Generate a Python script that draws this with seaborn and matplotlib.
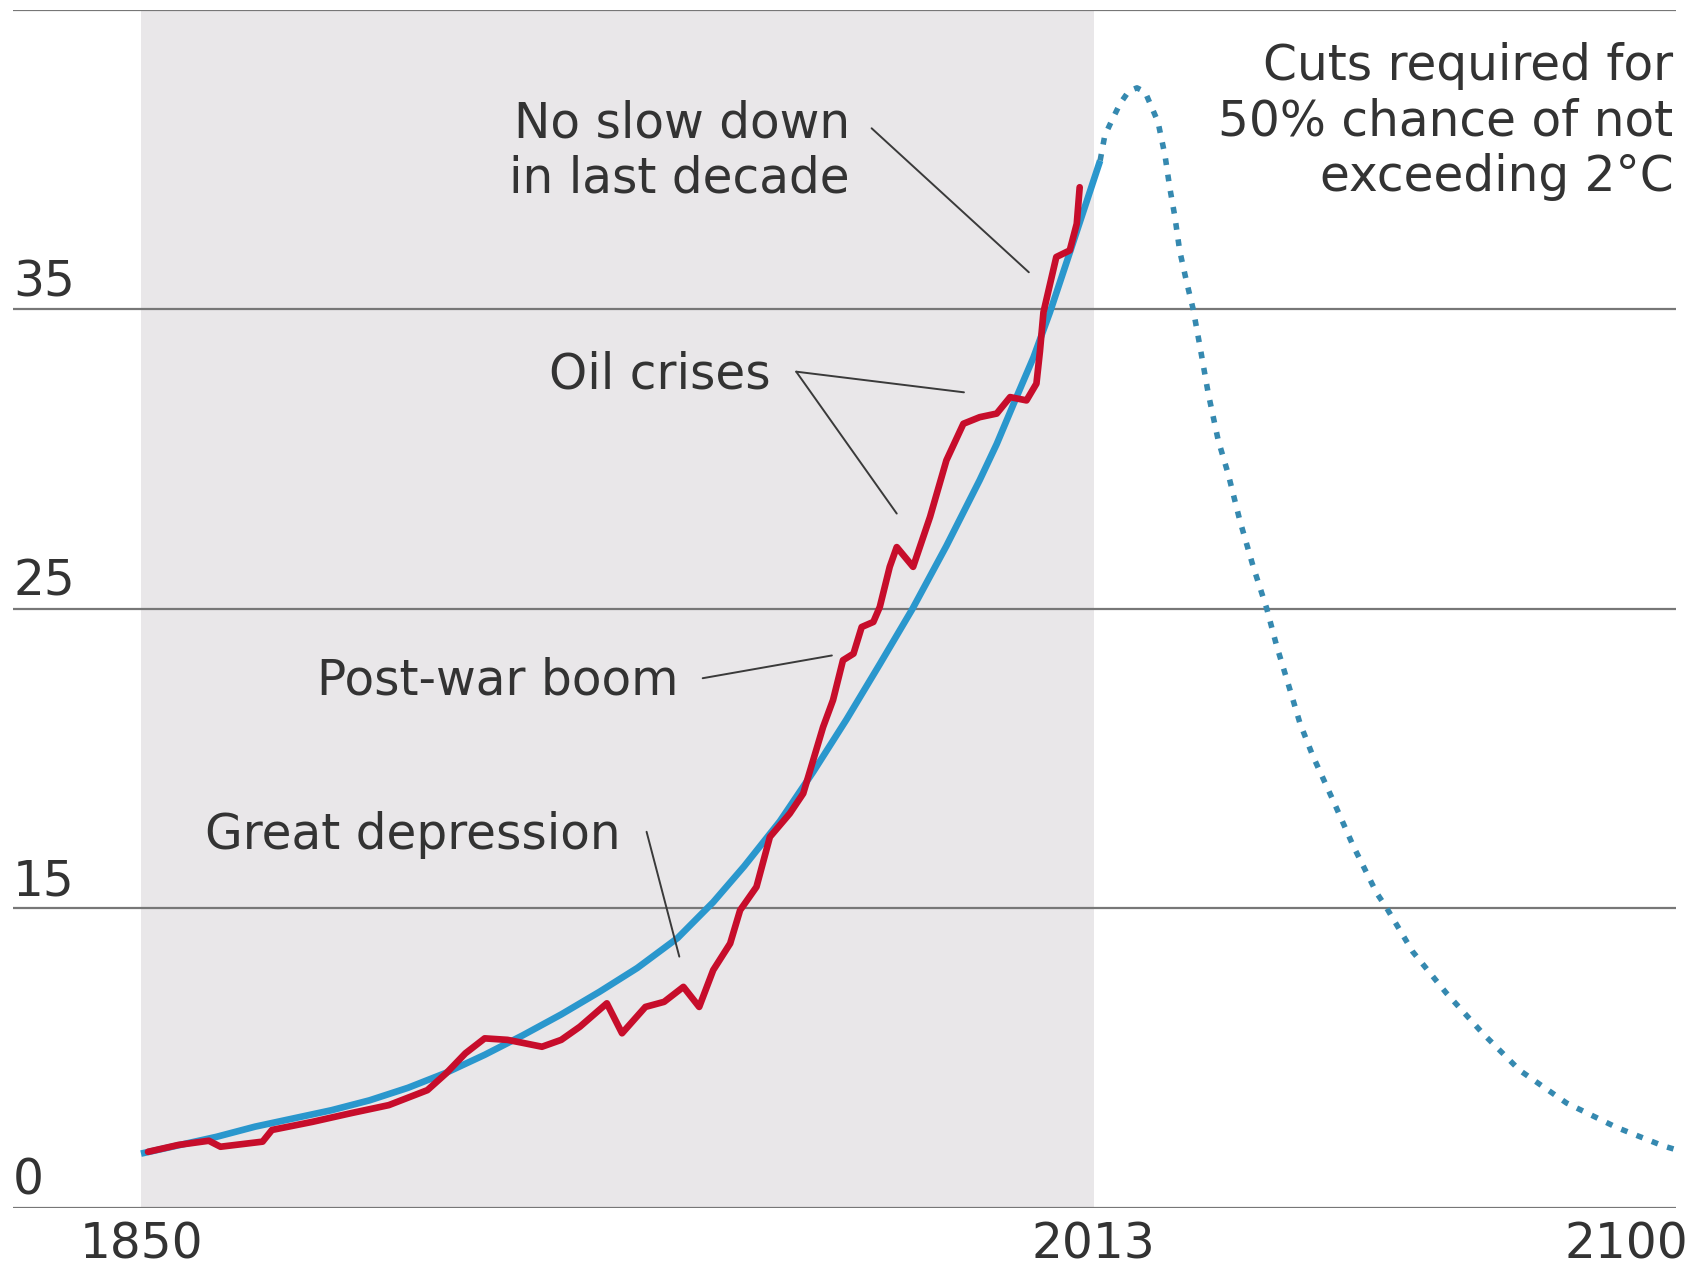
import matplotlib
matplotlib.use("Agg")
import matplotlib.pyplot as plt
import matplotlib.transforms as mtransforms
import seaborn as sns

# Observed emissions (red)
obs_years = [1851.2, 1856.4, 1861.6, 1863.6, 1870.8, 1872.4, 1879.3, 1885.9, 1892.4, 1899.0,
             1902.2, 1905.5, 1908.8, 1912.7, 1915.3, 1918.6, 1921.9, 1925.1, 1929.7, 1932.3,
             1936.3, 1939.5, 1942.8, 1945.5, 1947.9, 1950.8, 1952.5, 1955.3, 1957.6, 1961.0,
             1963.3, 1965.0, 1966.7, 1968.4, 1970.1, 1971.9, 1973.3, 1975.3, 1976.4, 1978.1,
             1979.3, 1982.1, 1985.0, 1987.8, 1990.7, 1993.5, 1996.4, 1998.7, 2001.5, 2003.2,
             2003.8, 2004.4, 2006.6, 2008.9, 2010.1, 2010.6]
obs_values = [6.86, 7.09, 7.23, 7.03, 7.20, 7.59, 7.86, 8.15, 8.42, 8.92,
              9.48, 10.15, 10.65, 10.60, 10.50, 10.37, 10.60, 11.04, 11.82, 10.82,
              11.70, 11.87, 12.37, 11.70, 12.93, 13.82, 14.93, 15.71, 17.38, 18.16,
              18.83, 19.94, 21.05, 21.95, 23.28, 23.50, 24.39, 24.56, 25.06, 26.40,
              27.06, 26.40, 28.07, 29.96, 31.18, 31.40, 31.52, 32.07, 31.96, 32.52,
              33.60, 34.90, 36.75, 36.97, 37.86, 39.08]

# Long-term trend (solid blue)
trend_years = [1850.0, 1862.9, 1869.5, 1882.6, 1889.1, 1895.7, 1902.2, 1908.8, 1915.3, 1921.9,
               1928.4, 1934.9, 1941.8, 1947.9, 1953.2, 1959.3, 1965.0, 1970.7, 1976.4, 1982.0,
               1987.8, 1993.5, 1996.4, 1999.2, 2002.7, 2005.5, 2008.4, 2014.1]
trend_values = [6.80, 7.36, 7.70, 8.25, 8.58, 9.00, 9.50, 10.10, 10.75, 11.45,
                12.20, 13.00, 14.00, 15.20, 16.40, 17.90, 19.55, 21.30, 23.15, 25.00,
                27.10, 29.30, 30.50, 31.80, 33.40, 34.90, 36.60, 39.97]

# Required cuts pathway (dotted blue)
path_years = [2014.1, 2014.9, 2016.1, 2017.5, 2019.0, 2020.4, 2021.8, 2022.9, 2024.0, 2024.6,
              2025.2, 2026.0, 2026.9, 2027.7, 2028.9, 2030.0, 2031.2, 2032.6, 2034.3, 2036.0,
              2038.0, 2040.3, 2042.6, 2044.3, 2046.0, 2048.3, 2050.5, 2054.0, 2057.4, 2061.4,
              2063.1, 2067.6, 2073.3, 2079.6, 2085.9, 2093.9, 2102.4, 2110.4, 2112.3]
path_values = [39.97, 40.81, 41.31, 41.87, 42.29, 42.40, 42.26, 41.76, 41.26, 40.70,
               40.14, 39.08, 38.08, 36.97, 35.91, 35.02, 33.74, 32.19, 30.63, 29.51,
               27.95, 26.40, 25.01, 23.76, 22.67, 21.17, 20.08, 18.58, 17.08, 15.51,
               15.01, 13.54, 12.17, 10.81, 9.58, 8.49, 7.68, 7.06, 6.95]

grid_values = [5, 15, 25, 35, 45]
grid_labels = ["0", "15", "25", "35", ""]
year_ticks = [1850, 2013, 2100]
year_labels = ["1850", "2013", "2100"]

sns.set_theme(style="white")
plt.rcParams["font.family"] = ["DejaVu Sans"]

text_color = "#333333"
fs = 35

fig = plt.figure(figsize=(16.98, 12.69), dpi=100)
ax = fig.add_axes([0.00766, 0.04846, 0.9873 - 0.00766, 0.9921 - 0.04846])
ax.set_xlim(1828.1, 2112.7)
ax.set_ylim(5, 45)

# historical period shading
ax.axvspan(1850, 2013, color="#e9e7e9", zorder=0, lw=0)

for v in grid_values:
    ax.axhline(v, color="#777777", lw=1.6, zorder=1)

sns.lineplot(x=trend_years, y=trend_values, ax=ax, color="#2a97cd", linewidth=4.8,
             solid_capstyle="butt", zorder=3)
sns.lineplot(x=path_years, y=path_values, ax=ax, color="#3589b0", linewidth=4.0,
             linestyle=(0, (1.2, 1.75)), dash_capstyle="butt", zorder=3)
sns.lineplot(x=obs_years, y=obs_values, ax=ax, color="#c70d2b", linewidth=4.8,
             solid_joinstyle="round", zorder=4)

for sp in ax.spines.values():
    sp.set_visible(False)

ax.set_yticks([])
ax.set_xticks(year_ticks)
ax.set_xticklabels(year_labels)
ax.tick_params(axis="x", length=0, pad=9, labelsize=fs, colors=text_color)
ax.set_xlabel("")
ax.set_ylabel("")
# the last year label sits a little right of its tick in the original
last = ax.get_xticklabels()[-1]
last.set_transform(last.get_transform() + mtransforms.ScaledTranslation(0.24, 0, fig.dpi_scale_trans))

# y labels sit above their gridline at the left edge
blend = mtransforms.blended_transform_factory(ax.transAxes, ax.transData)
for v, lab in zip(grid_values, grid_labels):
    ax.text(0.0, v + 0.43, lab, transform=blend, ha="left", va="baseline",
            fontsize=fs, color=text_color)

line_kw = dict(arrowstyle="-", color="#3a3a3a", lw=1.4, shrinkA=0, shrinkB=0)

ax.text(1971.3, 40.29, "No slow down\nin last decade", ha="right", va="center",
        multialignment="right", fontsize=fs, color=text_color, linespacing=1.2)
ax.annotate("", xy=(2001.9, 36.24), xytext=(1975.0, 41.05), arrowprops=line_kw)

ax.text(1957.8, 32.84, "Oil crises", ha="right", va="center", fontsize=fs, color=text_color)
ax.annotate("", xy=(1990.8, 32.23), xytext=(1962.1, 32.92), arrowprops=line_kw)
ax.annotate("", xy=(1979.3, 28.18), xytext=(1962.1, 32.92), arrowprops=line_kw)

ax.text(1942.0, 22.61, "Post-war boom", ha="right", va="center", fontsize=fs, color=text_color)
ax.annotate("", xy=(1968.2, 23.44), xytext=(1946.1, 22.68), arrowprops=line_kw)

ax.text(1932.0, 17.44, "Great depression", ha="right", va="center", fontsize=fs, color=text_color)
ax.annotate("", xy=(1942.1, 13.38), xytext=(1936.5, 17.55), arrowprops=line_kw)

ax.text(2112.2, 41.27, "Cuts required for\n50% chance of not\nexceeding 2°C", ha="right",
        va="center", multialignment="right", fontsize=fs, color=text_color, linespacing=1.2)

fig.savefig("out.png", dpi=100)
